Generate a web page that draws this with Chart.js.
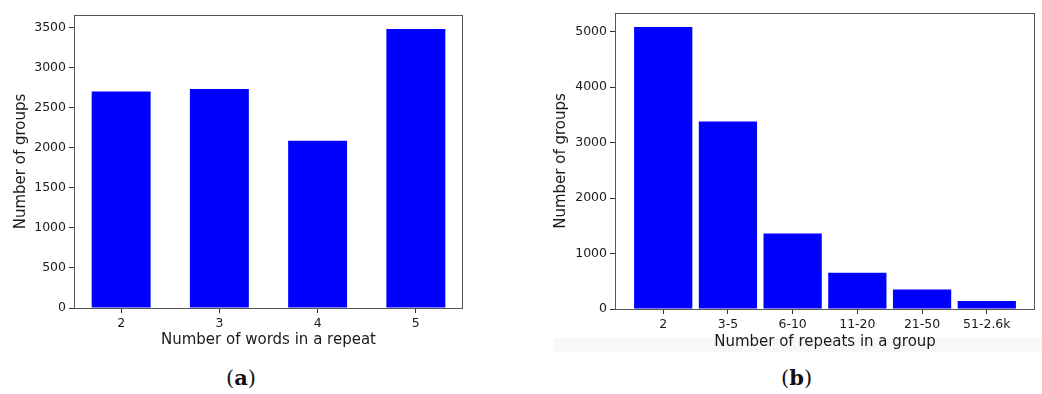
<!DOCTYPE html>
<html>
<head>
<meta charset="utf-8">
<script src="https://cdn.jsdelivr.net/npm/chart.js@4.4.0/dist/chart.umd.min.js"></script>
<style>
  html, body { margin: 0; padding: 0; background: #ffffff; }
  body { width: 1042px; height: 394px; position: relative; overflow: hidden; }
  .box { position: absolute; top: 0; height: 355px; }
  #boxA { left: 0; width: 480px; }
  #boxB { left: 540px; width: 502px; }
  .band { position: absolute; left: 554px; top: 338px; width: 488px; height: 14px; background: #f8f8f8; }
  .cap { position: absolute; top: 366px; font-family: "DejaVu Serif", "Liberation Serif", serif; font-size: 21px; color: #111; line-height: 24px; }
  #capA { left: 226px; }
  #capB { left: 781px; }
</style>
</head>
<body>
<div class="band"></div>
<div class="box" id="boxA"><canvas id="chartA"></canvas></div>
<div class="box" id="boxB"><canvas id="chartB"></canvas></div>
<div class="cap" id="capA">(<b>a</b>)</div>
<div class="cap" id="capB">(<b>b</b>)</div>
<script>
// ---- data ----
const wordsCategories = ["2", "3", "4", "5"];
const wordsGroups = [2700, 2730, 2085, 3480];
const wordsYTicks = [0, 500, 1000, 1500, 2000, 2500, 3000, 3500];

const repeatsCategories = ["2", "3-5", "6-10", "11-20", "21-50", "51-2.6k"];
const repeatsGroups = [5080, 3380, 1362, 654, 353, 144];
const repeatsYTicks = [0, 1000, 2000, 3000, 4000, 5000];

const xTitleA = "Number of words in a repeat";
const xTitleB = "Number of repeats in a group";
const yTitle = "Number of groups";

// ---- helpers ----
const FONT = "'DejaVu Sans', 'Liberation Sans', sans-serif";
const frame = {
  id: 'frame',
  afterDraw(chart) {
    const {ctx, chartArea: a} = chart;
    ctx.save();
    ctx.strokeStyle = '#555';
    ctx.lineWidth = 1;
    ctx.strokeRect(Math.round(a.left) + 0.5, Math.round(a.top) + 0.5,
                   Math.round(a.right - a.left) - 1, Math.round(a.bottom - a.top));
    ctx.restore();
  }
};

function makeChart(id, cats, vals, yTicks, xTitle, barFrac, cfg) {
  const n = cats.length;
  const half = barFrac / 2;
  const span = (n - 1) + barFrac;
  const xmin = -half - 0.05 * span;
  const xmax = (n - 1) + half + 0.05 * span;
  const ymax = Math.max(...vals) * 1.05;
  return new Chart(document.getElementById(id), {
    type: 'bar',
    data: {
      datasets: [{
        data: vals.map((v, i) => ({x: i, y: v})),
        backgroundColor: '#0000ff',
        borderWidth: 0,
        barPercentage: barFrac,
        categoryPercentage: 1.0
      }]
    },
    options: {
      responsive: true,
      maintainAspectRatio: false,
      animation: false,
      layout: { padding: { top: cfg.top, right: cfg.right, left: 0, bottom: 0 } },
      plugins: { legend: { display: false }, tooltip: { enabled: false } },
      scales: {
        x: {
          type: 'linear',
          min: xmin, max: xmax,
          offset: false,
          afterBuildTicks(axis) { axis.ticks = cats.map((c, i) => ({value: i})); },
          afterFit(axis) { axis.height = cfg.xh; },
          ticks: {
            autoSkip: false, maxRotation: 0, padding: 3,
            color: '#1a1a1a', font: { family: FONT, size: 12.5 },
            callback: (v) => cats[Math.round(v)]
          },
          grid: { display: true, drawOnChartArea: false, drawTicks: true, tickLength: 5, tickColor: '#333', offset: false },
          border: { display: false },
          title: { display: true, text: xTitle, color: '#1a1a1a', font: { family: FONT, size: 15 }, padding: { top: 0, bottom: cfg.xtb } }
        },
        y: {
          min: 0, max: ymax,
          afterBuildTicks(axis) { axis.ticks = yTicks.map(v => ({value: v})); },
          afterFit(axis) { axis.width = cfg.yw; },
          ticks: { padding: 3, color: '#1a1a1a', font: { family: FONT, size: 12.5 }, callback: (v) => String(v) },
          grid: { display: true, drawOnChartArea: false, drawTicks: true, tickLength: 5, tickColor: '#333' },
          border: { display: false },
          title: { display: true, text: yTitle, color: '#1a1a1a', font: { family: FONT, size: 15 }, padding: { top: 12, bottom: 0 } }
        }
      }
    },
    plugins: [frame]
  });
}

makeChart('chartA', wordsCategories, wordsGroups, wordsYTicks, xTitleA, 0.6,
  { top: 15, right: 17, xh: 47, yw: 74, xtb: 6 });
makeChart('chartB', repeatsCategories, repeatsGroups, repeatsYTicks, xTitleB, 0.9,
  { top: 13, right: 7, xh: 46, yw: 75, xtb: 4 });
</script>
</body>
</html>
